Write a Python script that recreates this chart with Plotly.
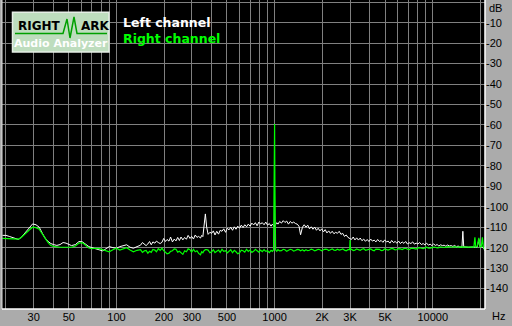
import math
import plotly.graph_objects as go

# ---------------- data ----------------
freq_hz = [19, 20, 21, 22, 23, 24, 25, 26.5, 28, 29.5,
           31, 32.5, 34, 35.5, 37, 38.5, 40, 42, 44, 46,
           48, 50, 52, 55, 58, 61, 64, 67, 70, 74,
           78, 82, 86, 90, 95, 100, 105, 110, 116, 122,
           128, 135, 142, 146, 150, 154, 158, 162, 166, 170,
           175, 179, 184, 189, 194, 199, 204, 209, 215, 220,
           226, 232, 238, 244, 250, 256, 263, 270, 277, 284,
           292, 299, 307, 315, 323, 331, 340, 346, 352, 358,
           365, 372, 380, 390, 400, 410, 420, 431, 442, 453,
           465, 477, 490, 502, 515, 528, 542, 556, 570, 585,
           600, 616, 632, 648, 665, 682, 700, 718, 737, 756,
           775, 795, 815, 836, 858, 880, 903, 926, 950, 968,
           985, 995, 1000, 1005, 1015, 1032, 1050, 1077, 1105, 1134,
           1163, 1193, 1224, 1256, 1288, 1321, 1355, 1390, 1426, 1460,
           1500, 1539, 1579, 1620, 1662, 1705, 1749, 1794, 1840, 1887,
           1936, 1986, 2037, 2089, 2143, 2199, 2255, 2313, 2373, 2434,
           2497, 2562, 2628, 2696, 2765, 2837, 2910, 2985, 3000, 3015,
           3062, 3141, 3222, 3305, 3390, 3478, 3567, 3660, 3754, 3851,
           3950, 4052, 4156, 4264, 4373, 4486, 4602, 4721, 4842, 4967,
           5095, 5227, 5361, 5500, 5641, 5787, 5936, 6089, 6246, 6407,
           6572, 6742, 6915, 7094, 7277, 7465, 7657, 7855, 8057, 8265,
           8478, 8697, 8920, 9151, 9386, 9629, 9876, 10131, 10390, 10660,
           10935, 11218, 11505, 11802, 12106, 12420, 12738, 13070, 13403, 13750,
           14103, 14470, 14839, 15300, 15500, 15700, 16028, 16865, 17745, 18200,
           18470, 18700, 19100, 19570, 19900, 20300, 20600, 20900, 21400]

left_db = [-114, -114, -114.5, -115, -115.5, -116, -115, -112.5, -110.5, -108.4,
           -108.8, -110, -113, -115.5, -117, -118, -118.5, -118.9, -118.5, -117.5,
           -117.8, -118.5, -119, -118.5, -117, -117.2, -118.5, -119.5, -120, -120.6,
           -121.3, -121.6, -120.5, -119.5, -120, -120.3, -119.5, -119, -118.6, -119.8,
           -120.3, -119.5, -118.8, -117.5, -118.3, -119, -118.2, -117, -118.6, -117.2,
           -117.8, -116.8, -117.5, -118, -117.4, -115.5, -117, -116, -116.8, -114.8,
           -117.2, -115.8, -116.7, -115, -116.5, -114.8, -116.2, -115, -115.9, -114,
           -115.5, -114.5, -115.8, -113.8, -115, -114.5, -115.3, -114, -114.6, -109,
           -103.5, -110, -113.5, -112.5, -113, -111.8, -113.8, -112, -113.4, -111.5,
           -112, -110.8, -112.5, -110.5, -111.3, -110, -111.5, -109.8, -111, -109.5,
           -110.5, -109, -110.2, -108.8, -109.8, -108.5, -109.5, -108, -108.9, -107.8,
           -109.3, -107.5, -108.4, -107.8, -108.8, -107.5, -109, -108.2, -109.5, -108.5,
           -109.7, -109.7, -109.5, -109.3, -109, -107.8, -108.5, -107.2, -108, -106.8,
           -107.7, -107, -108.5, -107.2, -108, -107.5, -108.2, -108.5, -109.5, -113.7,
           -110, -108.8, -110, -109, -110.8, -109.8, -111, -110, -111.5, -110.5,
           -111.8, -110.8, -112.3, -111.2, -112.8, -111.8, -113, -112, -113.2, -112.5,
           -113, -112, -113.5, -113, -114.5, -113.8, -115, -115.5, -115.5, -115.8,
           -116, -114.8, -116.2, -115.2, -116.3, -115.3, -116.6, -115.8, -116.9, -116,
           -117, -115.8, -116.8, -116.3, -117.2, -116, -117, -116.5, -117.4, -116.2,
           -117.2, -116.8, -117.8, -116.5, -117.5, -117, -117.8, -116.8, -118, -117.2,
           -117.9, -117, -118.2, -117.6, -118, -117.2, -118.3, -117.8, -118.2, -117.5,
           -118.5, -118, -118.6, -117.8, -118.8, -118.3, -119, -118.2, -118.9, -118.5,
           -119.2, -118.6, -119, -118.8, -119.3, -118.7, -119.2, -119, -119.4, -118.9,
           -119.6, -119.2, -119.7, -119.7, -112, -119.6, -119.7, -119.8, -119.7, -119.6,
           -119.8, -119.6, -119.7, -116, -119.6, -119.6, -119.8, -120, -121.5]

right_db = [-115.5, -115.6, -115.6, -115.7, -115.8, -115.8, -115, -113, -111.5, -110,
            -110.2, -111, -113, -115.5, -117.5, -119, -119.4, -119.7, -119.8, -119.8,
            -119.8, -119.8, -119.8, -119.2, -117.8, -117.6, -119, -120.2, -120.5, -120.3,
            -120.5, -121, -121.8, -122, -121, -120.3, -121.2, -120.5, -120, -121.2,
            -122, -121.3, -121, -122.3, -121.6, -121.4, -122.7, -121.8, -122.3, -120.9,
            -121.2, -122, -120.5, -121.3, -120.3, -121.5, -122.2, -123, -122.7, -121.8,
            -121.5, -120.6, -120.8, -122.2, -121.8, -122.5, -123.3, -121.5, -122, -120.6,
            -121, -122.2, -120.8, -122, -121.5, -122.8, -123.5, -122, -122.5, -121.5,
            -121, -121, -121.2, -122.5, -122, -121, -122.4, -121.8, -121.2, -122.3,
            -120.8, -121.8, -121.5, -122.6, -121.8, -121, -122.5, -121.3, -122, -123,
            -122.5, -121.2, -121.5, -122.2, -120.8, -121.8, -121.2, -122.3, -121.8, -120.8,
            -121.5, -122.2, -121.2, -122, -121, -121.8, -121.5, -122.4, -121.3, -121.8,
            -121.2, -90, -59.5, -90, -121.2, -121.8, -121, -121.6, -121.5, -120.8,
            -121, -121.8, -121.3, -120.8, -121, -121.7, -121.4, -120.9, -121, -121.5,
            -121, -121.6, -121, -121.5, -121.3, -120.7, -121, -121.6, -121.2, -120.8,
            -121, -121.5, -121, -120.7, -120.8, -121.4, -121, -120.6, -121.2, -121.3,
            -120.8, -121.2, -121, -120.6, -121.2, -121.5, -121, -121, -116.3, -121,
            -120.8, -121.4, -121.2, -120.6, -121, -121.3, -120.8, -120.5, -121.3, -121,
            -121, -120.6, -121.2, -121.5, -120.7, -120.9, -120.8, -121.4, -121.3, -120.6,
            -121, -121.2, -120.8, -120.4, -120.6, -121.1, -120.9, -120.5, -120.6, -120.9,
            -120.5, -120.3, -120.7, -120.9, -120.4, -120.2, -120.5, -120.7, -120.2, -120,
            -120.3, -120.5, -120.1, -119.8, -120.2, -120.3, -120, -119.7, -119.8, -120.1,
            -120, -119.6, -119.8, -120, -119.9, -119.5, -119.7, -119.9, -119.8, -119.5,
            -119.7, -119.8, -119.6, -119.7, -119.6, -119.7, -119.8, -119.7, -119.6, -119.7,
            -115, -119.7, -119.5, -115.2, -119.7, -119.5, -115, -119.8, -121]

grid_hz = [20, 30, 40, 50, 60, 70, 80, 90, 100, 200, 300, 400, 500, 600, 700, 800, 900,
           1000, 2000, 3000, 4000, 5000, 6000, 7000, 8000, 9000, 10000, 20000]
labeled_hz = {30: "30", 50: "50", 100: "100", 200: "200", 300: "300", 500: "500",
              1000: "1000", 2000: "2K", 3000: "3K", 5000: "5K", 10000: "10000"}
db_ticks = [0, -10, -20, -30, -40, -50, -60, -70, -80, -90, -100, -110, -120, -130, -140, -150]

# ---------------- figure ----------------
W, H = 512, 326
L_M, R_M, T_M, B_M = 2, 27, 0, 17
PW, PH = W - L_M - R_M, H - T_M - B_M

def px(x):
    return (x - L_M) / PW

def py(y):
    return 1 - (y - T_M) / PH

fig = go.Figure()
fig.add_trace(go.Scatter(x=freq_hz, y=left_db, mode="lines",
                         line=dict(color="#FFFFFF", width=1), hoverinfo="skip"))
fig.add_trace(go.Scatter(x=freq_hz, y=right_db, mode="lines",
                         line=dict(color="#00FF00", width=1.2), hoverinfo="skip"))

tick_font = dict(family="Liberation Sans", size=11, color="#000000")
fig.update_xaxes(type="log", range=[math.log10(18.9), math.log10(21400)],
                 tickvals=grid_hz, ticktext=[labeled_hz.get(v, "") for v in grid_hz],
                 showgrid=True, gridcolor="#808080", gridwidth=1, zeroline=False,
                 showline=False, ticks="", tickfont=tick_font,
                 automargin=False, fixedrange=True)
fig.update_yaxes(range=[-150, 1.1], side="right",
                 tickvals=db_ticks, ticktext=["" if v in (0, -150) else str(v) for v in db_ticks],
                 showgrid=True, gridcolor="#808080", gridwidth=1, zeroline=False,
                 showline=False, ticks="", ticklabelstandoff=0, tickfont=tick_font,
                 automargin=False, fixedrange=True)

shapes = [
    dict(type="line", xref="paper", yref="paper", x0=0, x1=0, y0=0, y1=1, line=dict(color="#E0E0E0", width=1)),
    dict(type="line", xref="paper", yref="paper", x0=0, x1=1, y0=0, y1=0, line=dict(color="#FFFFFF", width=1.5)),
    dict(type="line", xref="paper", yref="paper", x0=1, x1=1, y0=0, y1=1, line=dict(color="#FFFFFF", width=1.5)),
    dict(type="rect", xref="paper", yref="paper", x0=px(12.5), x1=px(109), y0=py(52), y1=py(12.3),
         fillcolor="#BEDDBE", line=dict(color="#E6EEE6", width=1.5), layer="above"),
    dict(type="path", xref="paper", yref="paper", layer="above",
         path=(f"M {px(15)},{py(33.5)} L {px(63)},{py(33.5)} L {px(67)},{py(19)} L {px(70)},{py(38)} "
               f"L {px(74)},{py(17)} L {px(77)},{py(33.5)} L {px(107)},{py(33.5)}"),
         line=dict(color="#00A000", width=1.5)),
]

bold = "DejaVu Sans"
annotations = [
    dict(text="<b>RIGHT</b>", x=px(16), y=py(26), xanchor="left", yanchor="middle",
         font=dict(family=bold, size=12, color="#000000")),
    dict(text="<b>ARK</b>", x=px(79), y=py(26), xanchor="left", yanchor="middle",
         font=dict(family=bold, size=12, color="#000000")),
    dict(text="<b>Audio Analyzer</b>", x=px(61), y=py(43.5), xanchor="center", yanchor="middle",
         font=dict(family=bold, size=11, color="#FFFFFF")),
    dict(text="<b>Left channel</b>", x=px(121), y=py(22.5), xanchor="left", yanchor="middle",
         font=dict(family=bold, size=12.5, color="#FFFFFF")),
    dict(text="<b>Right channel</b>", x=px(121), y=py(38.5), xanchor="left", yanchor="middle",
         font=dict(family=bold, size=12.5, color="#00FF00")),
    dict(text="dB", x=px(487), y=py(8), xanchor="left", yanchor="middle", font=tick_font),
    dict(text="Hz", x=px(490), y=py(316), xanchor="left", yanchor="middle", font=tick_font),
]
for a in annotations:
    a.update(xref="paper", yref="paper", showarrow=False)

fig.update_layout(width=W, height=H, margin=dict(l=L_M, r=R_M, t=T_M, b=B_M, pad=0),
                  paper_bgcolor="#ABABAB", plot_bgcolor="#000000", showlegend=False,
                  shapes=shapes, annotations=annotations)

fig.write_html("out.html", config={"displayModeBar": False})
